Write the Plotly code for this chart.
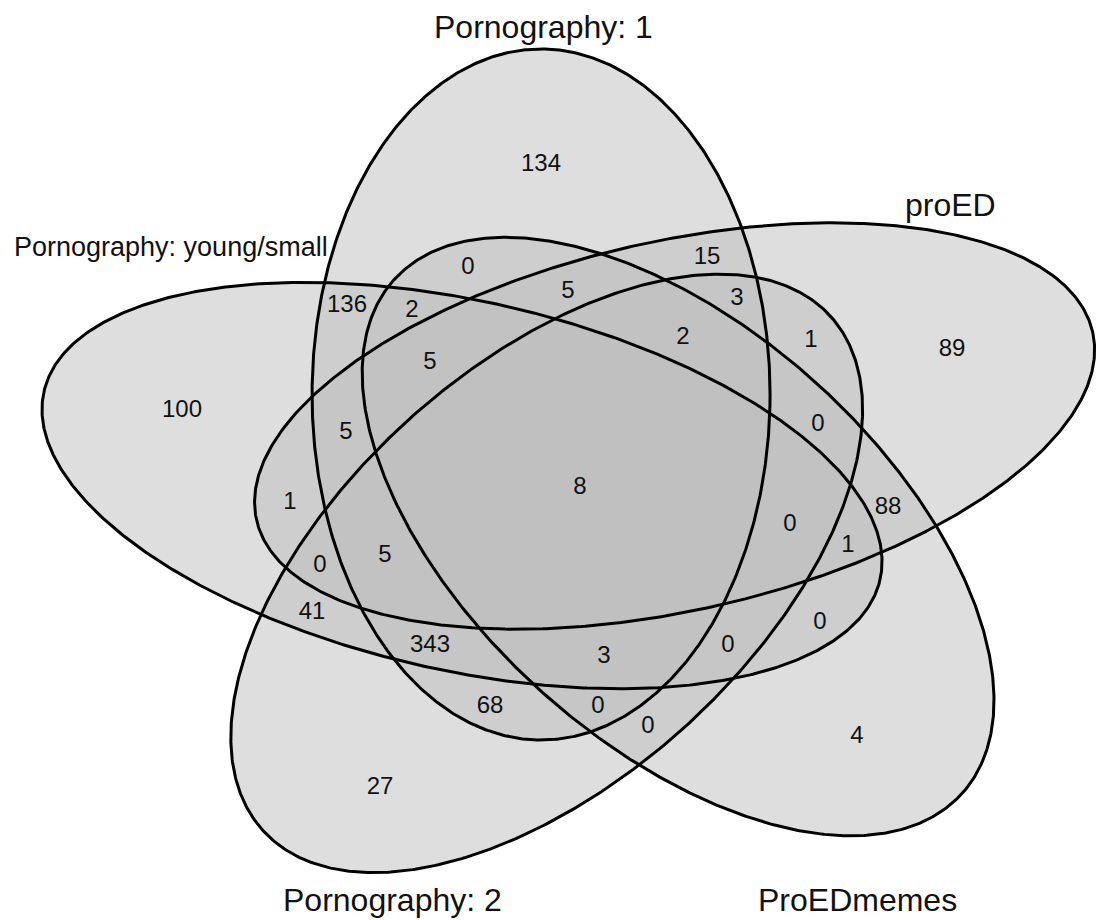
import numpy as np
import plotly.graph_objects as go

# ---- data ----
set_names = ["Pornography: 1", "proED", "ProEDmemes", "Pornography: 2", "Pornography: young/small"]
region_counts = [134, 0, 15, 5, 3, 2, 136, 2, 1, 5, 89, 100, 5, 0, 8, 1, 88, 0, 1,
                 0, 5, 41, 343, 3, 0, 0, 68, 0, 0, 4, 27]

# ---- layout: approximate label anchors in pixel space ----
region_x = [541, 468, 707, 568, 737, 412, 350, 683, 811, 430, 952, 182, 346, 818, 580, 290, 882, 790, 848,
            320, 385, 312, 430, 604, 728, 820, 490, 598, 648, 857, 380]
region_y = [165, 268, 258, 292, 299, 311, 327, 338, 341, 363, 350, 411, 433, 425, 488, 503, 511, 525, 546,
            566, 556, 613, 646, 657, 646, 623, 707, 707, 727, 737, 788]
name_x = [543, 950, 857, 392, 171]
name_y = [27, 205, 919, 900, 247]
name_anchor = ["middle", "middle", "bottom", "middle", "middle"]
name_size = [32, 32, 32, 32, 27]
NUM_SIZE = 24
FONT = "Liberation Sans, Arial, sans-serif"

# ellipse geometry (normalised frame rotated by 72 deg, then stretched horizontally)
S = 1.26
A_AX, B_AX = 229 / 1.26, 345.5
PU, PV = -31.3, 88.7
X0, Y0 = 580.5, 483.2

centers, Ls = [], []
for k in range(5):
    th = np.deg2rad(-72 * k)
    c, s_ = np.cos(th), np.sin(th)
    cu = PU * c - PV * s_
    cv = PU * s_ + PV * c
    centers.append(np.array([X0 + S * cu, Y0 - cv]))
    minor = np.array([S * c, -s_]) * A_AX
    major = np.array([-S * s_, -c]) * B_AX
    Ls.append(np.column_stack([minor, major]))
Linv = [np.linalg.inv(L) for L in Ls]

t = np.linspace(0, 2 * np.pi, 721)
outlines = [centers[k][:, None] + Ls[k] @ np.vstack([np.cos(t), np.sin(t)]) for k in range(5)]
tb = np.linspace(0, 2 * np.pi, 300, endpoint=False)
boundary = np.hstack([centers[k][:, None] + Ls[k] @ np.vstack([np.cos(tb), np.sin(tb)]) for k in range(5)]).T


def region_code(P):
    code = np.zeros(len(P), dtype=int)
    for k in range(5):
        d = (P - centers[k]) @ Linv[k].T
        code += ((d ** 2).sum(1) <= 1).astype(int) << k
    return code


def clearance(P, kx):
    dx = (P[:, None, 0] - boundary[None, :, 0]) / kx
    dy = P[:, None, 1] - boundary[None, :, 1]
    return np.sqrt(dx ** 2 + dy ** 2).min(1)


# place each count inside its own region, near its anchor, clear of outlines
R, STEP = 72, 3
off = np.arange(-R, R + 1, STEP)
OX, OY = np.meshgrid(off, off)
offs = np.column_stack([OX.ravel(), OY.ravel()]).astype(float)
half_h = NUM_SIZE * 0.36
info = []
pairs = []
for i, (x, y, v) in enumerate(zip(region_x, region_y, region_counts)):
    n = len(str(v))
    kx = max(1.0, (n * 0.556 * NUM_SIZE / 2) / half_h)
    P = np.array([x, y], float) + offs
    codes = region_code(P)
    dist = np.hypot(offs[:, 0], offs[:, 1])
    clr = clearance(P, kx)
    info.append((P, codes, dist, clr))
    own = region_code(np.array([[x, y]], float))[0]
    own_clr = clearance(np.array([[x, y]], float), kx)[0]
    for r in np.unique(codes):
        if r == 0:
            continue
        dmin = 0.0 if r == own else dist[codes == r].min()
        pairs.append((dmin, -own_clr if r == own else 0.0, i, r))
pairs.sort()
assign, used = {}, set()
for dmin, _, i, r in pairs:
    if i in assign or r in used:
        continue
    assign[i] = r
    used.add(r)

lab_x, lab_y = [], []
for i in range(len(region_counts)):
    P, codes, dist, clr = info[i]
    if i not in assign:
        lab_x.append(region_x[i]); lab_y.append(region_y[i]); continue
    m = codes == assign[i]
    score = np.minimum(clr[m], half_h + 4) - 0.05 * dist[m]
    j = np.argmax(score)
    lab_x.append(P[m][j, 0]); lab_y.append(P[m][j, 1])

fig = go.Figure()
for x, y in outlines:
    fig.add_trace(go.Scatter(x=x, y=y, mode="lines", fill="toself",
                             fillcolor="rgba(190,190,190,0.5)",
                             line=dict(width=0), hoverinfo="skip", showlegend=False))
for x, y in outlines:
    fig.add_trace(go.Scatter(x=x, y=y, mode="lines",
                             line=dict(color="black", width=3),
                             hoverinfo="skip", showlegend=False))

fig.add_trace(go.Scatter(x=lab_x, y=lab_y, mode="text",
                         text=[str(c) for c in region_counts],
                         textfont=dict(family=FONT, size=NUM_SIZE, color="#111111"),
                         hoverinfo="skip", showlegend=False))

for nm, x, y, anc, sz in zip(set_names, name_x, name_y, name_anchor, name_size):
    fig.add_annotation(x=x, y=y, text=nm, showarrow=False, xref="x", yref="y",
                       yanchor=anc, borderpad=0,
                       font=dict(family=FONT, size=sz, color="#111111"))

fig.update_layout(width=1096, height=920, margin=dict(l=0, r=0, t=0, b=0),
                  plot_bgcolor="white", paper_bgcolor="white",
                  xaxis=dict(range=[0, 1096], visible=False, fixedrange=True),
                  yaxis=dict(range=[920, 0], visible=False, fixedrange=True))
fig.write_html("out.html", config={"displayModeBar": False},
               post_script="document.body.style.margin='0px';")
